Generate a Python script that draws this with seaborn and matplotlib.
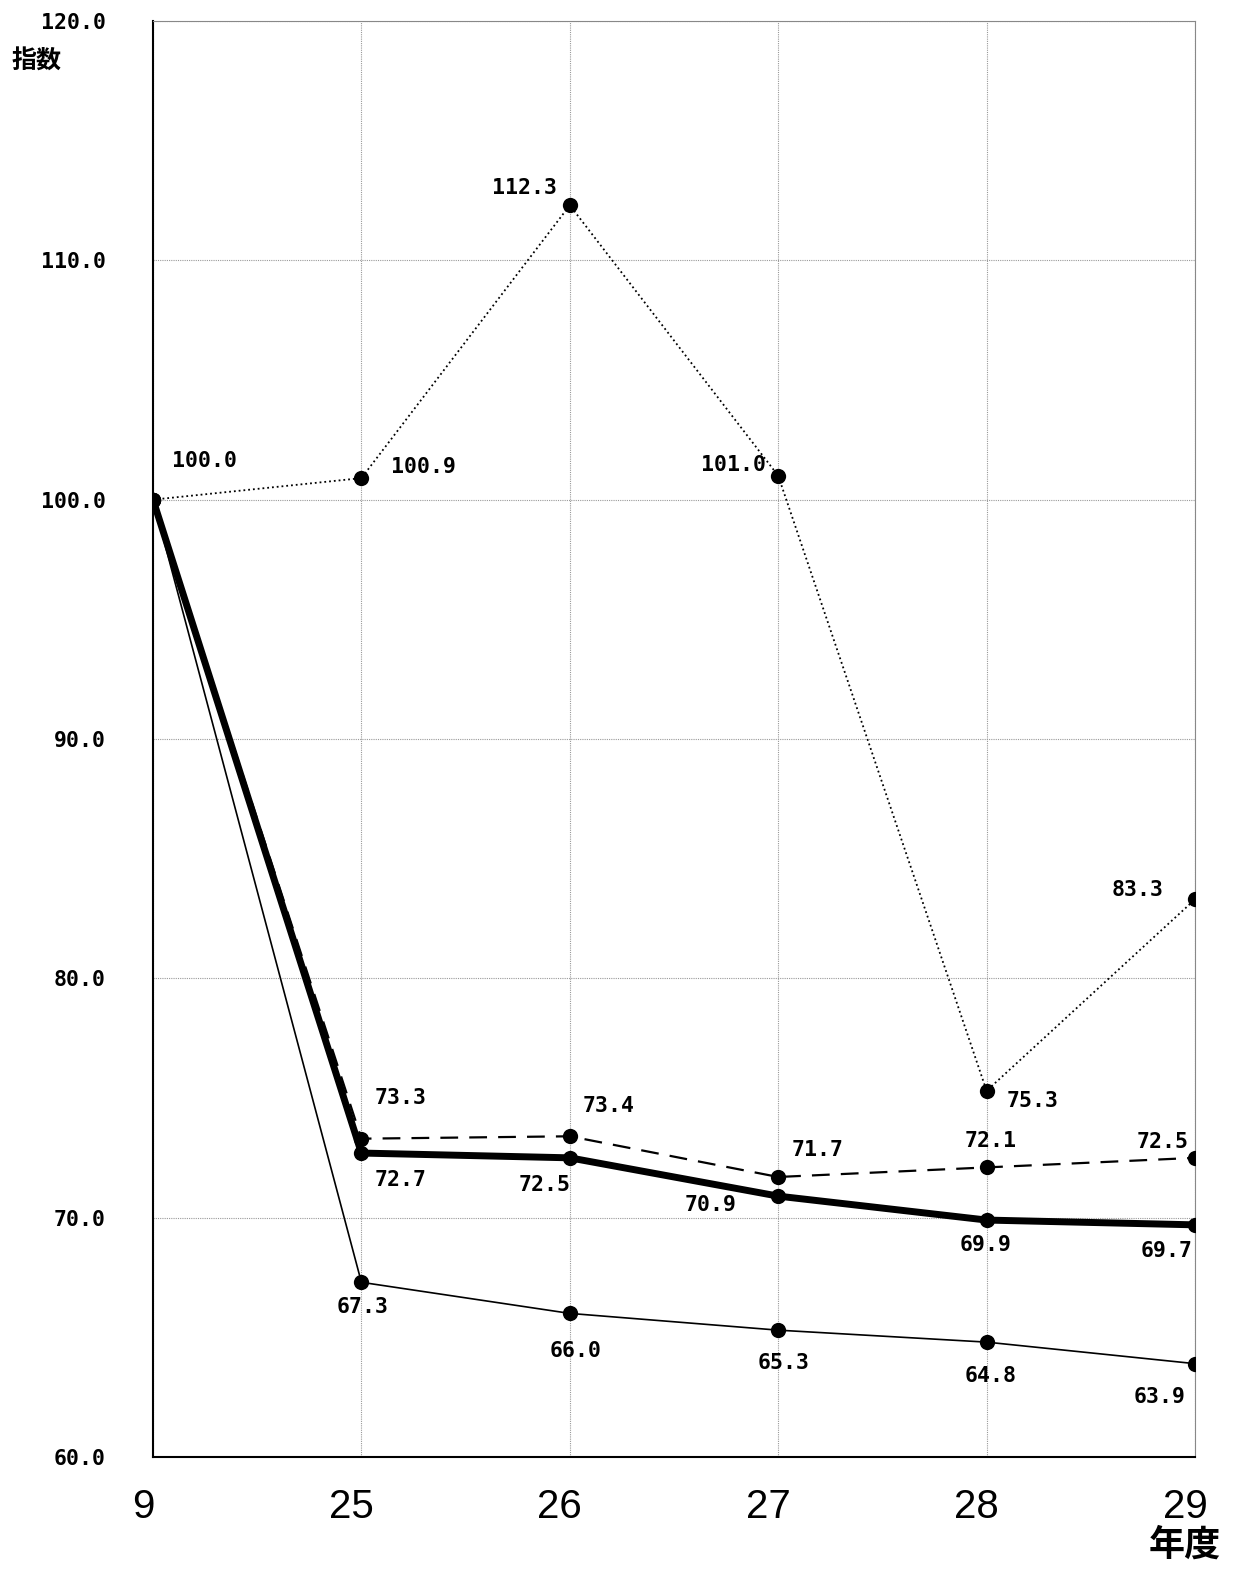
import numpy as np
import pandas as pd
import matplotlib
matplotlib.use("Agg")
import matplotlib.pyplot as plt
import matplotlib.transforms as mtransforms
import seaborn as sns

# 年度（横軸）
years = ["9", "25", "26", "27", "28", "29"]

# 各系列の指数
dotted_vals = [100.0, 100.9, 112.3, 101.0, 75.3, 83.3]
dashed_vals = [100.0, 73.3, 73.4, 71.7, 72.1, 72.5]
thick_vals = [100.0, 72.7, 72.5, 70.9, 69.9, 69.7]
thin_vals = [100.0, 67.3, 66.0, 65.3, 64.8, 63.9]

# ラベルの位置ずれ（ピクセル）
dotted_off = [(52, 39), (62, 11), (-45, 17), (-45, 11), (46, -10), (-57, 9)]
dashed_off = [None, (39, 41), (39, 30), (39, 27), (4, 26), (-32, 16)]
thick_off = [None, (39, -27), (-25, -27), (-68, -9), (-1, -25), (-28, -26)]
thin_off = [None, (1, -25), (6, -38), (5, -33), (4, -34), (-35, -33)]

yticks = [60.0, 70.0, 80.0, 90.0, 100.0, 110.0, 120.0]

sns.set_style("white")
plt.rcParams["font.family"] = ["Noto Sans CJK JP", "DejaVu Sans"]
plt.rcParams["text.color"] = "black"
plt.rcParams["xtick.color"] = "black"
plt.rcParams["ytick.color"] = "black"

mono = ["DejaVu Sans Mono"]

fig = plt.figure(figsize=(12.35, 15.71), dpi=100)
ax = fig.add_axes([153 / 1235, 1 - 1457 / 1571, (1195 - 153) / 1235, (1457 - 21) / 1571])

pos = np.arange(len(years))
series = [
    (dotted_vals, ":", 1.3, dotted_off),
    (dashed_vals, (0, (8, 5)), 1.6, dashed_off),
    (thin_vals, "-", 1.2, thin_off),
    (thick_vals, "-", 5.0, thick_off),
]

for vals, ls, lw, offs in series:
    df = pd.DataFrame({"x": pos, "y": vals})
    sns.lineplot(data=df, x="x", y="y", ax=ax, color="black", linestyle=ls,
                 linewidth=lw, marker="o", markersize=11, markeredgewidth=0,
                 markerfacecolor="black", zorder=3)
    for i, (v, off) in enumerate(zip(vals, offs)):
        if off is None:
            continue
        ax.annotate(f"{v:.1f}", (pos[i], v), xytext=off, textcoords="offset pixels",
                    ha="center", va="center", fontsize=15.5, fontweight="bold",
                    family=mono, color="black", zorder=4)

ax.set_xlim(0, len(years) - 1)
ax.set_ylim(60, 120)
ax.set_xticks(pos)
ax.set_xticklabels(years, fontsize=29, family=["Liberation Sans"], color="black")
ax.set_yticks(yticks)
ax.set_yticklabels([f"{t:.1f}" for t in yticks], fontsize=15.5, fontweight="bold",
                   family=mono, color="black")
ax.tick_params(axis="x", length=0, pad=22)
ax.tick_params(axis="y", length=0, pad=34)
shift = mtransforms.ScaledTranslation(-10 / 100, 0, fig.dpi_scale_trans)
for lab in ax.get_xticklabels():
    lab.set_transform(lab.get_transform() + shift)

ax.set_xlabel("")
ax.set_ylabel("")
ax.grid(True, color="#999999", linestyle=(0, (1, 1)), linewidth=0.8)
ax.set_axisbelow(True)

for side in ["left", "bottom"]:
    ax.spines[side].set_color("black")
    ax.spines[side].set_linewidth(1.5)
for side in ["top", "right"]:
    ax.spines[side].set_color("#888888")
    ax.spines[side].set_linewidth(0.8)

fig.text(37 / 1235, 1 - 62 / 1571, "指数", fontsize=18, fontweight="bold",
         ha="center", va="center", color="black")
fig.text(1185 / 1235, 1 - 1545 / 1571, "年度", fontsize=26, fontweight="bold",
         ha="center", va="center", color="black")

fig.savefig("out.png", dpi=100)
